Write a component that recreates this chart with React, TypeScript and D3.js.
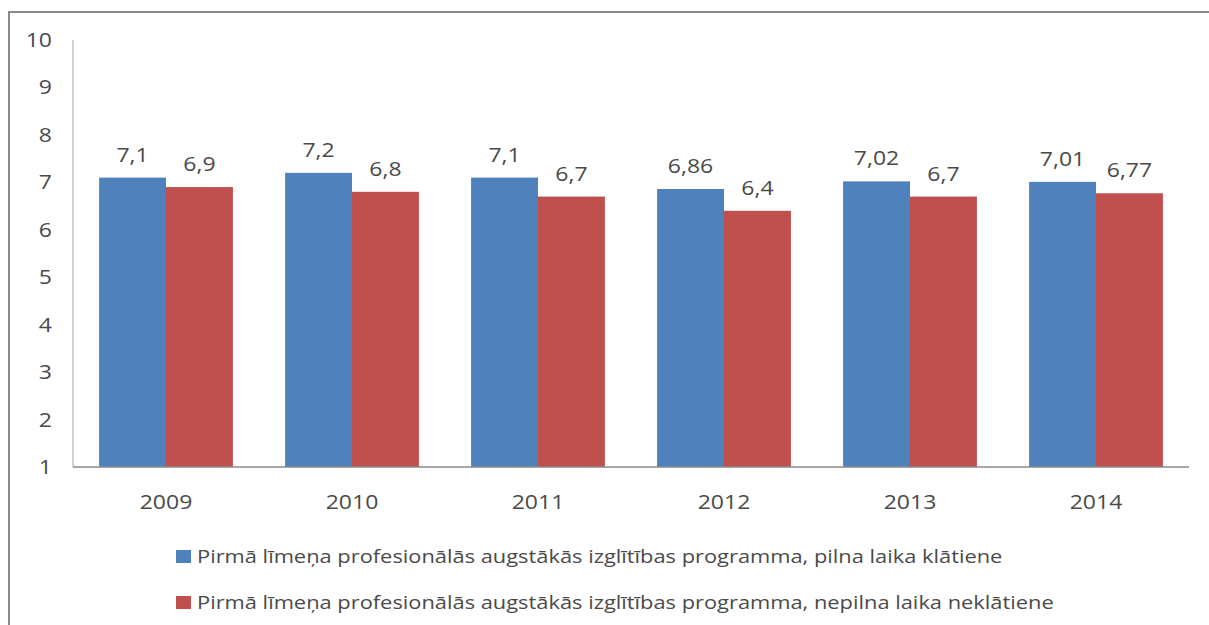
import React, { useEffect, useRef } from 'react';
import * as d3 from 'd3';

const years = ['2009', '2010', '2011', '2012', '2013', '2014'];
const fullTime = [7.1, 7.2, 7.1, 6.86, 7.02, 7.01];
const partTime = [6.9, 6.8, 6.7, 6.4, 6.7, 6.77];
const seriesNames = [
  'Pirmā līmeņa profesionālās augstākās izglītības programma, pilna laika klātiene',
  'Pirmā līmeņa profesionālās augstākās izglītības programma, nepilna laika neklātiene',
];
const seriesColors = ['#4F81BD', '#C0504D'];
const yTicks = [1, 2, 3, 4, 5, 6, 7, 8, 9, 10];

const W = 1209, H = 625;
const FONT = '"Open Sans", "Noto Sans", sans-serif';
const TEXT = '#4a4a4a';
// the source picture is a little wider than tall, so text gets stretched sideways
const SX = 1.15;

export default function App() {
  const ref = useRef<SVGSVGElement>(null);

  useEffect(() => {
    const svg = d3.select(ref.current);
    svg.selectAll('*').remove();

    // outer frame (runs off the right and bottom)
    svg.append('rect')
      .attr('x', 9).attr('y', 12)
      .attr('width', W).attr('height', H)
      .attr('fill', '#fff')
      .attr('stroke', '#8a8a8a')
      .attr('stroke-width', 2);

    const left = 73, right = 1189, top = 40, bottom = 467;

    const x = d3.scaleBand().domain(years).range([left, right]);
    const inner = d3.scaleBand().domain(['0', '1']).range([0, x.bandwidth()]).paddingOuter(0.39).paddingInner(0);
    const y = d3.scaleLinear().domain([1, 10]).range([bottom, top]);

    const label = (sel: any, size: number, anchor: string) =>
      sel.attr('text-anchor', anchor)
        .attr('font-family', FONT)
        .attr('font-size', size)
        .attr('fill', TEXT);

    // y tick labels
    label(svg.append('g').selectAll('text')
      .data(yTicks)
      .enter().append('text')
      .attr('transform', (d: number) => `translate(52,${y(d)}) scale(${SX},1)`)
      .attr('dy', '0.35em'), 20, 'end')
      .text((d: number) => d);

    const groups = svg.append('g').selectAll('g')
      .data(years)
      .enter().append('g')
      .attr('transform', d => `translate(${x(d)},0)`);

    [fullTime, partTime].forEach((vals, s) => {
      groups.append('rect')
        .attr('x', inner(String(s))!)
        .attr('width', inner.bandwidth())
        .attr('y', (d, i) => y(vals[i]))
        .attr('height', (d, i) => y(1) - y(vals[i]))
        .attr('fill', seriesColors[s]);

      label(groups.append('text')
        .attr('transform', (d: string, i: number) =>
          `translate(${inner(String(s))! + inner.bandwidth() / 2},${y(vals[i]) - 16}) scale(${SX},1)`), 20, 'middle')
        .text((d: string, i: number) => String(vals[i]).replace('.', ','));
    });

    // axes lines
    svg.append('line')
      .attr('x1', left).attr('x2', left)
      .attr('y1', top).attr('y2', bottom)
      .attr('stroke', '#c8c0b8').attr('stroke-width', 1.5);
    svg.append('line')
      .attr('x1', left).attr('x2', right)
      .attr('y1', bottom).attr('y2', bottom)
      .attr('stroke', '#8a8a8a').attr('stroke-width', 1.5);

    // x labels
    label(svg.append('g').selectAll('text')
      .data(years)
      .enter().append('text')
      .attr('transform', (d: string) => `translate(${x(d)! + x.bandwidth() / 2},502) scale(${SX},1)`)
      .attr('dy', '0.35em'), 20, 'middle')
      .text((d: string) => d);

    // legend
    const legend = svg.append('g').selectAll('g')
      .data(seriesNames)
      .enter().append('g')
      .attr('transform', (d, i) => `translate(176,${556 + i * 46})`);
    legend.append('rect')
      .attr('x', 0).attr('y', -6)
      .attr('width', 15).attr('height', 13)
      .attr('fill', (d, i) => seriesColors[i]);
    label(legend.append('text')
      .attr('transform', `translate(21,0) scale(${SX},1)`)
      .attr('dy', '0.35em'), 19, 'start')
      .text((d: string) => d);
  }, []);

  return (
    <svg ref={ref} width={W} height={H}
      style={{ position: 'absolute', left: 0, top: 0, background: '#fff' }} />
  );
}
